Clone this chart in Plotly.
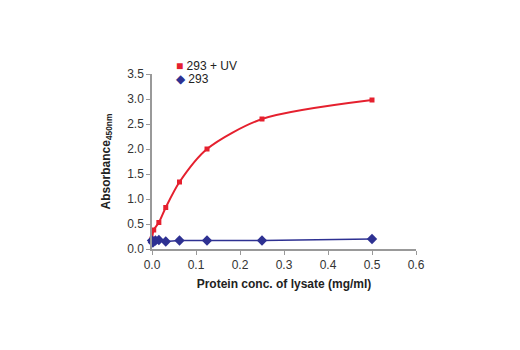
import plotly.graph_objects as go

uv_x = [0, 0.0039, 0.0156, 0.03125, 0.0625, 0.125, 0.25, 0.5]
uv_y = [0.20, 0.38, 0.53, 0.83, 1.34, 2.00, 2.60, 2.98]
ctl_x = [0, 0.002, 0.0078, 0.0156, 0.03125, 0.0625, 0.125, 0.25, 0.5]
ctl_y = [0.17, 0.13, 0.17, 0.18, 0.15, 0.17, 0.17, 0.17, 0.20]
x_ticks = [0.0, 0.1, 0.2, 0.3, 0.4, 0.5, 0.6]
y_ticks = [0.0, 0.5, 1.0, 1.5, 2.0, 2.5, 3.0, 3.5]
series_names = ["293 + UV", "293"]

RED = "#e5202e"
BLUE = "#2e3192"
FONT = "Liberation Sans Narrow, Arial Narrow, Liberation Sans, Arial, sans-serif"

fig = go.Figure()
fig.add_trace(go.Scatter(
    x=uv_x, y=uv_y, name=series_names[0], mode="lines+markers",
    line=dict(color=RED, width=2, shape="spline", smoothing=0.8),
    marker=dict(symbol="square", size=5, color=RED),
    cliponaxis=False, showlegend=False))
fig.add_trace(go.Scatter(
    x=ctl_x, y=ctl_y, name=series_names[1], mode="lines+markers",
    line=dict(color=BLUE, width=1.5),
    marker=dict(symbol="diamond", size=8, color=BLUE),
    cliponaxis=False, showlegend=False))

# legend as annotations (marker glyph + label, tight spacing like the reference)
legend_items = [(series_names[0], RED, "■", 1.046), (series_names[1], BLUE, "◆", 0.972)]
for name, col, glyph, ypos in legend_items:
    fig.add_annotation(
        xref="paper", yref="paper", x=0.085, y=ypos, xanchor="left", yanchor="middle",
        text=f"<span style='color:{col}'>{glyph}</span> {name}", showarrow=False,
        font=dict(family=FONT, size=12, color="#222222"))

axis_common = dict(showgrid=False, zeroline=False, showline=True, linecolor="#999999",
                   linewidth=1.5, ticks="outside", ticklen=4, tickcolor="#999999",
                   tickfont=dict(family=FONT, size=12, color="#333333"))

fig.update_layout(
    width=520, height=350,
    margin=dict(l=152, r=104, t=74, b=101),
    plot_bgcolor="white", paper_bgcolor="white",
    font=dict(family=FONT, color="#222222"),
    showlegend=False,
    xaxis=dict(range=[0, 0.6], tickvals=x_ticks, tickformat=".1f",
               title=dict(text="<b>Protein conc. of lysate (mg/ml)</b>",
                          font=dict(family=FONT, size=12, color="#222222"), standoff=8),
               **axis_common),
    yaxis=dict(range=[0, 3.5], tickvals=y_ticks, tickformat=".1f",
               title=dict(text="<b>Absorbance<sub>450nm</sub></b>",
                          font=dict(family=FONT, size=12, color="#222222"), standoff=14),
               **axis_common),
)

fig.write_html("out.html")
